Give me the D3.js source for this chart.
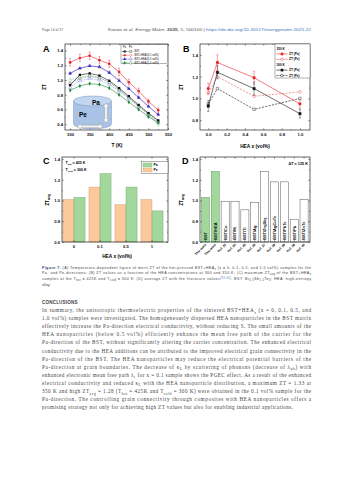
<!DOCTYPE html>
<html>
<head>
<meta charset="utf-8">
<script src="https://cdn.jsdelivr.net/npm/d3@7"></script>
<style>
  body { margin: 0; background: #fff; }
  svg { display: block; font-family: Arial, "Liberation Sans", sans-serif; }
</style>
</head>
<body>
<div id="page"></div>
<script>
/* DATA */
// panel A: ZT vs temperature
const tempsK = [300, 325, 350, 375, 400, 425, 450, 475, 500, 525];
const ztPaBST = [0.93, 1.07, 1.09, 1.06, 0.99, 0.89, 0.78, 0.66, 0.55, 0.45];
const ztPeBST = [0.95, 1.02, 1.05, 1.03, 0.97, 0.87, 0.76, 0.65, 0.54, 0.44];
const ztPa01 = [1.24, 1.30, 1.33, 1.27, 1.22, 1.11, 0.97, 0.85, 0.71, 0.59];
const ztPe01 = [1.09, 1.16, 1.20, 1.17, 1.11, 1.01, 0.89, 0.77, 0.65, 0.53];
const ztPa05 = [1.09, 1.16, 1.19, 1.18, 1.10, 0.99, 0.88, 0.76, 0.64, 0.53];
const ztPe05 = [0.90, 0.99, 1.02, 1.00, 0.94, 0.85, 0.75, 0.64, 0.53, 0.42];
const ztPa10 = [0.86, 0.92, 0.95, 0.94, 0.89, 0.80, 0.70, 0.60, 0.50, 0.42];
const ztPe10 = [1.00, 1.04, 1.06, 1.03, 0.97, 0.87, 0.76, 0.64, 0.52, 0.40];
const errPa01 = [0.05, 0.05, 0.05, 0.05, 0.05, 0.05, 0.04, 0.04, 0.03, 0.03];
const seriesNames = ["BST", "BST+HEA (0.1 vol%)", "BST+HEA (0.5 vol%)", "BST+HEA (1.0 vol%)"];

// panel B: ZT vs HEA content
const heaX = [0, 0.1, 0.5, 1.0];
const zt350Pa = [1.09, 1.33, 1.19, 0.95];
const err350Pa = [0.05, 0.07, 0.06, 0.04];
const zt350Pe = [1.05, 1.20, 1.02, 1.06];
const zt300Pa = [0.93, 1.24, 1.09, 0.86];
const err300Pa = [0.05, 0.06, 0.06, 0.04];
const zt300Pe = [0.95, 1.09, 0.90, 1.00];

// panel C: ZT avg bars
const heaCats = ["0", "0.1", "0.5", "1"];
const avgPe = [1.01, 1.13, 0.96, 1.01];
const avgPa = [1.03, 1.26, 1.13, 0.90];

// panel D: comparison with literature
const litNames = ["BST", "BST/HEA", "BST/Co", "BST/Ni", "BST/Ti", "BST/Ag", "BST/Zn_{4}Sb_{3}", "BST/AgCuTe", "BST/PbTe", "BST/Pb", "BST/ZnTe"];
const litRefs = ["This work", "This work", "Ref. 33", "Ref. 34", "Ref. 35", "Ref. 36", "Ref. 37", "Ref. 38", "Ref. 39", "Ref. 39", "Ref. 40"];
const litVals = [1.03, 1.28, 0.99, 0.99, 0.91, 0.98, 1.28, 1.18, 1.18, 0.82, 1.01];

/* COLOURS */
const colBST = "#111111", col01 = "#e3262b", col05 = "#2430d6", col10 = "#1e8a35";
const greenBar = "#a2d89c", orangeBar = "#fbc99b";

const W = 353, H = 480;
const svg = d3.select("#page").append("svg").attr("width", W).attr("height", H);

// text with _{sub} and ^{sup}
function rich(text, str, fs) {
  let shift = 0;
  str.split(/(_\{[^}]*\}|\^\{[^}]*\})/).forEach(part => {
    if (!part) return;
    let target = 0, content = part, small = false;
    if (part.startsWith("_{")) { target = fs * 0.3; content = part.slice(2, -1); small = true; }
    else if (part.startsWith("^{")) { target = -fs * 0.4; content = part.slice(2, -1); small = true; }
    const t = text.append("tspan").attr("dy", target - shift).text(content);
    if (small) t.attr("font-size", fs * 0.7);
    shift = target;
  });
  return text;
}

// framed axes with inward ticks on four sides
function frame(g, x, y, o) {
  const [x0, x1] = o.xr, [y0, y1] = o.yr;
  const styleTicks = sel => {
    sel.select(".domain").remove();
    sel.selectAll("line").attr("stroke", "#000").attr("stroke-width", 0.4);
    sel.selectAll("text").attr("font-size", 4.2).attr("font-weight", "bold").attr("fill", "#111");
  };
  const bx = o.xAxis(d3.axisBottom(x)).tickSizeInner(-1.8).tickSizeOuter(0).tickPadding(2.6);
  g.append("g").attr("transform", `translate(0,${y1})`).call(bx).call(styleTicks);
  g.append("g").attr("transform", `translate(0,${y0})`)
    .call(o.xAxis(d3.axisTop(x)).tickSizeInner(-1.8).tickSizeOuter(0).tickFormat(""))
    .call(styleTicks);
  g.append("g").attr("transform", `translate(${x0},0)`)
    .call(d3.axisLeft(y).tickValues(o.yTicks).tickFormat(d3.format(".1f")).tickSizeInner(-1.8).tickSizeOuter(0).tickPadding(2))
    .call(styleTicks);
  g.append("g").attr("transform", `translate(${x1},0)`)
    .call(d3.axisRight(y).tickValues(o.yTicks).tickFormat("").tickSizeInner(-1.8).tickSizeOuter(0))
    .call(styleTicks);
  if (o.yMinor) {
    g.append("g").attr("transform", `translate(${x0},0)`)
      .call(d3.axisLeft(y).tickValues(o.yMinor).tickFormat("").tickSize(-1).tickSizeOuter(0)).call(styleTicks);
    g.append("g").attr("transform", `translate(${x1},0)`)
      .call(d3.axisRight(y).tickValues(o.yMinor).tickFormat("").tickSize(-1).tickSizeOuter(0)).call(styleTicks);
  }
  if (o.xMinor) {
    g.append("g").attr("transform", `translate(0,${y1})`)
      .call(d3.axisBottom(x).tickValues(o.xMinor).tickFormat("").tickSize(-1).tickSizeOuter(0)).call(styleTicks);
    g.append("g").attr("transform", `translate(0,${y0})`)
      .call(d3.axisTop(x).tickValues(o.xMinor).tickFormat("").tickSize(-1).tickSizeOuter(0)).call(styleTicks);
  }
  g.append("rect").attr("x", x0).attr("y", y0).attr("width", x1 - x0).attr("height", y1 - y0)
    .attr("fill", "none").attr("stroke", "#000").attr("stroke-width", 0.6);
}

function panelLetter(x, y, s) {
  svg.append("text").attr("x", x).attr("y", y).attr("font-size", 9).attr("font-weight", "bold").text(s);
}
function axisTitle(x, y, s, rot) {
  const t = svg.append("text").attr("text-anchor", "middle").attr("font-size", 4.8).attr("font-weight", "bold")
    .attr("transform", rot ? `translate(${x},${y}) rotate(-90)` : `translate(${x},${y})`);
  rich(t, s, 4.8);
}

/* HEADER */
svg.append("text").attr("x", 42).attr("y", 30.5).attr("font-size", 3.4).attr("fill", "#555").text("Page 14 of 17");
const hdr = svg.append("text").attr("x", 108).attr("y", 30.5).attr("font-size", 3.4).attr("fill", "#555")
  .attr("textLength", 203).attr("lengthAdjust", "spacingAndGlyphs");
hdr.append("tspan").text("Kanoo et al. ");
hdr.append("tspan").attr("font-style", "italic").text("Energy Mater. ");
hdr.append("tspan").attr("font-weight", "bold").text("2025");
hdr.append("tspan").text(", 5, 500100 | ");
hdr.append("tspan").attr("fill", "#3b74c4").text("https://dx.doi.org/10.20517/energymater.2025.22");

/* PANEL A */
const xA = d3.scaleLinear().domain([287, 550]).range([65, 168]);
const yA = d3.scaleLinear().domain([0.32, 1.49]).range([130, 44]);
const gA = svg.append("g");
frame(gA, xA, yA, {
  xr: [65, 168], yr: [44, 130],
  xAxis: a => a.tickValues([300, 350, 400, 450, 500, 550]).tickFormat(d3.format("d")),
  xMinor: [325, 375, 425, 475, 525],
  yTicks: [0.4, 0.6, 0.8, 1.0, 1.2, 1.4], yMinor: [0.5, 0.7, 0.9, 1.1, 1.3]
});
panelLetter(43, 52, "A");
axisTitle(46, 87, "ZT", true);
axisTitle(117, 147, "T (K)", false);

// inset cylinder (Pa / Pe directions)
const cyl = gA.append("g");
const cx = 92.5, rx = 19, ry = 5, topY = 101, botY = 124;
cyl.append("path")
  .attr("d", `M${cx - rx},${topY} L${cx - rx},${botY} A${rx},${ry} 0 0 0 ${cx + rx},${botY} L${cx + rx},${topY} Z`)
  .attr("fill", "#a9c3e6").attr("stroke", "#7b96bf").attr("stroke-width", 0.5);
cyl.append("ellipse").attr("cx", cx).attr("cy", topY).attr("rx", rx).attr("ry", ry)
  .attr("fill", "#c3d6f0").attr("stroke", "#7b96bf").attr("stroke-width", 0.5);
cyl.append("text").attr("x", 96).attr("y", 104.5).attr("font-size", 6.5).attr("font-weight", "bold").attr("text-anchor", "middle").text("Pa");
cyl.append("text").attr("x", 83).attr("y", 117).attr("font-size", 6.5).attr("font-weight", "bold").attr("text-anchor", "middle").text("Pe");
// vertical double arrow
const va = 106, vt = 103, vb = 123;
cyl.append("path")
  .attr("d", `M${va},${vt} L${va + 3.2},${vt + 4} L${va + 1.4},${vt + 4} L${va + 1.4},${vb - 4} L${va + 3.2},${vb - 4} L${va},${vb} L${va - 3.2},${vb - 4} L${va - 1.4},${vb - 4} L${va - 1.4},${vt + 4} L${va - 3.2},${vt + 4} Z`)
  .attr("fill", "#f4f4f4").attr("stroke", "#8a8a8a").attr("stroke-width", 0.4);
// horizontal double arrow
const hy = 126.5, hl = 77, hr = 103;
cyl.append("path")
  .attr("d", `M${hl},${hy} L${hl + 4},${hy - 3} L${hl + 4},${hy - 1.3} L${hr - 4},${hy - 1.3} L${hr - 4},${hy - 3} L${hr},${hy} L${hr - 4},${hy + 3} L${hr - 4},${hy + 1.3} L${hl + 4},${hy + 1.3} L${hl + 4},${hy + 3} Z`)
  .attr("fill", "#f4f4f4").attr("stroke", "#8a8a8a").attr("stroke-width", 0.4);

const seriesA = [
  { name: seriesNames[0], pa: ztPaBST, pe: ztPeBST, col: colBST, sym: d3.symbolSquare },
  { name: seriesNames[1], pa: ztPa01, pe: ztPe01, col: col01, sym: d3.symbolCircle, err: errPa01 },
  { name: seriesNames[2], pa: ztPa05, pe: ztPe05, col: col05, sym: d3.symbolTriangle },
  { name: seriesNames[3], pa: ztPa10, pe: ztPe10, col: col10, sym: d3.symbolDiamond }
];
const lineA = d3.line().x(d => xA(d[0])).y(d => yA(d[1]));
// Pe (open, dashed) first, then Pa on top
seriesA.forEach(s => {
  const pts = tempsK.map((t, i) => [t, s.pe[i]]);
  gA.append("path").attr("d", lineA(pts)).attr("fill", "none").attr("stroke", s.col)
    .attr("stroke-width", 0.55).attr("stroke-dasharray", "1.6,1").attr("opacity", 0.55);
  gA.selectAll(null).data(pts).join("path")
    .attr("transform", d => `translate(${xA(d[0])},${yA(d[1])})`)
    .attr("d", d3.symbol().type(s.sym).size(5.5)).attr("fill", "#fff").attr("stroke", s.col)
    .attr("stroke-width", 0.4).attr("opacity", 0.6);
});
seriesA.forEach(s => {
  const pts = tempsK.map((t, i) => [t, s.pa[i]]);
  if (s.err) {
    gA.selectAll(null).data(pts).join("path")
      .attr("d", (d, i) => {
        const xx = xA(d[0]), yt = yA(d[1] + s.err[i]), yb = yA(d[1] - s.err[i]);
        return `M${xx},${yt}V${yb}M${xx - 1},${yt}H${xx + 1}M${xx - 1},${yb}H${xx + 1}`;
      })
      .attr("stroke", s.col).attr("stroke-width", 0.4).attr("fill", "none");
  }
  gA.append("path").attr("d", lineA(pts)).attr("fill", "none").attr("stroke", s.col).attr("stroke-width", 0.6);
  gA.selectAll(null).data(pts).join("path")
    .attr("transform", d => `translate(${xA(d[0])},${yA(d[1])})`)
    .attr("d", d3.symbol().type(s.sym).size(5.5)).attr("fill", s.col);
});

// legend A
const lgA = gA.append("g");
lgA.append("rect").attr("x", 121).attr("y", 44.8).attr("width", 46.8).attr("height", 19).attr("fill", "#fff")
  .attr("stroke", "#000").attr("stroke-width", 0.3);
lgA.append("text").attr("x", 123).attr("y", 48.2).attr("font-size", 2.6).text("Pa");
lgA.append("text").attr("x", 129).attr("y", 48.2).attr("font-size", 2.6).text("Pe");
seriesA.forEach((s, i) => {
  const ly = 51.5 + i * 3.8;
  lgA.append("line").attr("x1", 122).attr("x2", 127.5).attr("y1", ly).attr("y2", ly).attr("stroke", s.col).attr("stroke-width", 0.5);
  lgA.append("path").attr("transform", `translate(124.7,${ly})`).attr("d", d3.symbol().type(s.sym).size(4)).attr("fill", s.col);
  lgA.append("line").attr("x1", 128).attr("x2", 133.5).attr("y1", ly).attr("y2", ly).attr("stroke", s.col)
    .attr("stroke-width", 0.5).attr("stroke-dasharray", "1,0.6").attr("opacity", 0.6);
  lgA.append("path").attr("transform", `translate(130.7,${ly})`).attr("d", d3.symbol().type(s.sym).size(4))
    .attr("fill", "#fff").attr("stroke", s.col).attr("stroke-width", 0.35);
  lgA.append("text").attr("x", 134.5).attr("y", ly + 0.9).attr("font-size", 2.6).text(s.name);
});

/* PANEL B */
const xB = d3.scaleLinear().domain([-0.09, 1.11]).range([200, 310]);
const yB = d3.scaleLinear().domain([0.71, 1.5]).range([130, 44]);
const gB = svg.append("g");
frame(gB, xB, yB, {
  xr: [200, 310], yr: [44, 130],
  xAxis: a => a.tickValues([0, 0.2, 0.4, 0.6, 0.8, 1.0]).tickFormat(d3.format(".1f")),
  xMinor: [0.1, 0.3, 0.5, 0.7, 0.9],
  yTicks: [0.8, 1.0, 1.2, 1.4], yMinor: [0.9, 1.1, 1.3]
});
panelLetter(183, 52, "B");
axisTitle(183, 87, "ZT", true);
axisTitle(255, 148, "HEA x (vol%)", false);

const seriesB = [
  { v: zt300Pe, col: colBST, dash: true, sym: d3.symbolSquare },
  { v: zt350Pe, col: col01, dash: true, sym: d3.symbolCircle },
  { v: zt300Pa, col: colBST, dash: false, sym: d3.symbolSquare, err: err300Pa },
  { v: zt350Pa, col: col01, dash: false, sym: d3.symbolCircle, err: err350Pa }
];
const lineB = d3.line().x(d => xB(d[0])).y(d => yB(d[1]));
seriesB.forEach(s => {
  const pts = heaX.map((h, i) => [h, s.v[i]]);
  if (s.err) {
    gB.selectAll(null).data(pts).join("path")
      .attr("d", (d, i) => {
        const xx = xB(d[0]), yt = yB(d[1] + s.err[i]), yb = yB(d[1] - s.err[i]);
        return `M${xx},${yt}V${yb}M${xx - 1.1},${yt}H${xx + 1.1}M${xx - 1.1},${yb}H${xx + 1.1}`;
      })
      .attr("stroke", s.col).attr("stroke-width", 0.4).attr("fill", "none");
  }
  gB.append("path").attr("d", lineB(pts)).attr("fill", "none").attr("stroke", s.col)
    .attr("stroke-width", 0.6).attr("stroke-dasharray", s.dash ? "2.2,1.2" : null)
    .attr("opacity", s.dash && s.col === col01 ? 0.75 : 1);
  gB.selectAll(null).data(pts).join("path")
    .attr("transform", d => `translate(${xB(d[0])},${yB(d[1])})`)
    .attr("d", d3.symbol().type(s.sym).size(6))
    .attr("fill", s.dash ? "#fff" : s.col).attr("stroke", s.col).attr("stroke-width", 0.4);
});

// legend B
const lgB = gB.append("g");
lgB.append("rect").attr("x", 275).attr("y", 44).attr("width", 35).attr("height", 34).attr("fill", "#fff")
  .attr("stroke", "#000").attr("stroke-width", 0.3);
const legBRows = [
  { head: "350 K" }, { t: "ZT (Pa)", col: col01, dash: false, sym: d3.symbolCircle }, { t: "ZT (Pe)", col: col01, dash: true, sym: d3.symbolCircle },
  { head: "300 K" }, { t: "ZT (Pa)", col: colBST, dash: false, sym: d3.symbolSquare }, { t: "ZT (Pe)", col: colBST, dash: true, sym: d3.symbolSquare }
];
legBRows.forEach((r, i) => {
  const ly = 48.5 + i * 5.4;
  if (r.head) {
    lgB.append("text").attr("x", 276.5).attr("y", ly + 1).attr("font-size", 3.1).attr("font-weight", "bold").text(r.head);
    return;
  }
  lgB.append("line").attr("x1", 276.5).attr("x2", 287.5).attr("y1", ly).attr("y2", ly).attr("stroke", r.col)
    .attr("stroke-width", 0.6).attr("stroke-dasharray", r.dash ? "2,1" : null);
  lgB.append("path").attr("transform", `translate(282,${ly})`).attr("d", d3.symbol().type(r.sym).size(5))
    .attr("fill", r.dash ? "#fff" : r.col).attr("stroke", r.col).attr("stroke-width", 0.4);
  lgB.append("text").attr("x", 289).attr("y", ly + 1.1).attr("font-size", 3.1).attr("font-weight", "bold").text(r.t);
});

/* PANEL C */
const xC = d3.scaleBand().domain(heaCats).range([61, 165]).paddingInner(0.15).paddingOuter(0.075);
const xCsub = d3.scaleBand().domain(["Pe", "Pa"]).range([0, xC.bandwidth()]);
const yC = d3.scaleLinear().domain([0.6, 1.42]).range([242, 157]);
const gC = svg.append("g");
heaCats.forEach((c, i) => {
  [["Pe", avgPe[i], orangeBar, "#c59a72"], ["Pa", avgPa[i], greenBar, "#6f9f6a"]].forEach(([k, v, f, s]) => {
    gC.append("rect").attr("x", xC(c) + xCsub(k)).attr("y", yC(v)).attr("width", xCsub.bandwidth())
      .attr("height", yC(0.6) - yC(v)).attr("fill", f).attr("stroke", s).attr("stroke-width", 0.4);
  });
});
frame(gC, xC, yC, {
  xr: [62, 168], yr: [157, 242],
  xAxis: a => a,
  yTicks: [0.6, 0.8, 1.0, 1.2, 1.4], yMinor: [0.7, 0.9, 1.1, 1.3]
});
panelLetter(43, 164, "C");
axisTitle(49, 200, "ZT_{avg}", true);
axisTitle(117, 258, "HEA x (vol%)", false);
rich(svg.append("text").attr("x", 65.5).attr("y", 164).attr("font-size", 3.6).attr("font-weight", "bold"), "T_{hot} = 425 K", 3.6);
rich(svg.append("text").attr("x", 65.5).attr("y", 170.5).attr("font-size", 3.6).attr("font-weight", "bold"), "T_{cold} = 300 K", 3.6);
const lgC = gC.append("g");
lgC.append("rect").attr("x", 141.5).attr("y", 161.5).attr("width", 26.5).attr("height", 12).attr("fill", "#fff")
  .attr("stroke", "#000").attr("stroke-width", 0.3);
[["Pa", greenBar, "#6f9f6a"], ["Pe", orangeBar, "#c59a72"]].forEach(([k, f, s], i) => {
  const ly = 163 + i * 5;
  lgC.append("rect").attr("x", 143).attr("y", ly).attr("width", 9).attr("height", 4).attr("fill", f).attr("stroke", s).attr("stroke-width", 0.3);
  lgC.append("text").attr("x", 153.5).attr("y", ly + 3.2).attr("font-size", 3.4).attr("font-weight", "bold").text(k);
});

/* PANEL D */
const xD = d3.scaleBand().domain(d3.range(litVals.length)).range([200.5, 309]).paddingInner(0.18).paddingOuter(0.09);
const yD = d3.scaleLinear().domain([0.6, 1.42]).range([242, 157]);
const gD = svg.append("g");
gD.selectAll(null).data(litVals).join("rect")
  .attr("x", (d, i) => xD(i)).attr("y", d => yD(d)).attr("width", xD.bandwidth()).attr("height", d => yD(0.6) - yD(d))
  .attr("fill", (d, i) => litRefs[i] === "This work" ? greenBar : "#fff")
  .attr("stroke", (d, i) => litRefs[i] === "This work" ? "#5e8f59" : "#444").attr("stroke-width", 0.45);
litNames.forEach((n, i) => {
  const t = gD.append("text").attr("font-size", 4).attr("font-weight", "bold")
    .attr("transform", `translate(${xD(i) + xD.bandwidth() / 2 + 1.4},240) rotate(-90)`);
  rich(t, n, 4);
});
frame(gD, xD, yD, {
  xr: [200, 310], yr: [157, 242],
  xAxis: a => a.tickFormat(""),
  yTicks: [0.6, 0.8, 1.0, 1.2, 1.4], yMinor: [0.7, 0.9, 1.1, 1.3]
});
gD.selectAll(null).data(litRefs).join("text")
  .attr("transform", (d, i) => `translate(${xD(i) + xD.bandwidth() / 2 + 1},245) rotate(-45)`)
  .attr("text-anchor", "end").attr("font-size", 3.2).attr("font-weight", "bold").text(d => d);
panelLetter(182, 164, "D");
axisTitle(183, 200, "ZT_{avg}", true);
svg.append("text").attr("x", 308).attr("y", 164.5).attr("text-anchor", "end").attr("font-size", 3.8)
  .attr("font-weight", "bold").text("\u0394T = 125 K");

/* CAPTION */
const capLines = [
  "(A) Temperature-dependent figure of merit ZT of the hot-pressed BST+HEA_{x} (x = 0, 0.1, 0.5, and 1.0 vol%) samples for the",
  "Pa- and Pe-directions; (B) ZT values as a function of the HEA concentrations at 300 and 350 K; (C) maximum ZT_{avg} of the BST+HEA_{x}",
  "samples at the T_{hot} = 425K and T_{cold} = 300 K; (D) average ZT with the literature values",
  "alloy."
];
const capFs = 3.7;
capLines.forEach((l, i) => {
  const t = svg.append("text").attr("x", 42).attr("y", 268.5 + i * 5.8).attr("font-size", capFs).attr("fill", "#444");
  if (i === 0) t.append("tspan").attr("font-weight", "bold").attr("fill", "#1f3c6e").text("Figure 7. ");
  rich(t, l, capFs);
  if (i === 2) {
    t.append("tspan").attr("dy", -capFs * 0.4).attr("font-size", capFs * 0.7).attr("fill", "#3b74c4").text("[33-40]");
    const rest = t.append("tspan").attr("dy", capFs * 0.4);
    rest.text(". BST: Bi");
    rich(t, "_{0.5}Sb_{1.5}Te_{3}; HEA: high-entropy", capFs);
  }
  if (i < 3) t.attr("textLength", 269).attr("lengthAdjust", "spacing");
});

/* CONCLUSIONS */
svg.append("text").attr("x", 42).attr("y", 304).attr("font-size", 4.6).attr("font-weight", "bold")
  .attr("fill", "#444").attr("letter-spacing", 0.15).text("CONCLUSIONS");
const bodyLines = [
  "In summary, the anisotropic thermoelectric properties of the sintered BST+HEA_{x} (x = 0, 0.1, 0.5, and",
  "1.0 vol%) samples were investigated. The homogeneously dispersed HEA nanoparticles in the BST matrix",
  "effectively increase the Pa-direction electrical conductivity, without reducing S. The small amounts of the",
  "HEA nanoparticles (below 0.5 vol%) efficiently enhance the mean free path of the carrier for the",
  "Pa-direction of the BST, without significantly altering the carrier concentration. The enhanced electrical",
  "conductivity due to the HEA additions can be attributed to the improved electrical grain connectivity in the",
  "Pa-direction of the BST. The HEA nanoparticles may reduce the electrical potential barriers of the",
  "Pa-direction at grain boundaries. The decrease of \u03ba_{L} by scattering of phonons (decrease of \u03bb_{ph}) with",
  "enhanced electronic mean free path \u03bb_{e} for x = 0.1 sample shows the PGEC effect. As a result of the enhanced",
  "electrical conductivity and reduced \u03ba_{L} with the HEA nanoparticle distribution, a maximum ZT = 1.33 at",
  "350 K and high ZT_{avg} = 1.28 (T_{hot} = 425K and T_{cold} = 300 K) were obtained in the 0.1 vol% sample for the",
  "Pa-direction. The controlling grain connectivity through composites with HEA nanoparticles offers a",
  "promising strategy not only for achieving high ZT values but also for enabling industrial applications."
];
const bodyFs = 5.2;
bodyLines.forEach((l, i) => {
  const t = svg.append("text").attr("x", 42).attr("y", 312 + i * 8.1).attr("font-size", bodyFs)
    .attr("font-family", "'Liberation Serif', 'DejaVu Serif', serif").attr("fill", "#444");
  rich(t, l, bodyFs);
  t.attr("textLength", i < bodyLines.length - 1 ? 269 : 251).attr("lengthAdjust", "spacing");
});
</script>
</body>
</html>
